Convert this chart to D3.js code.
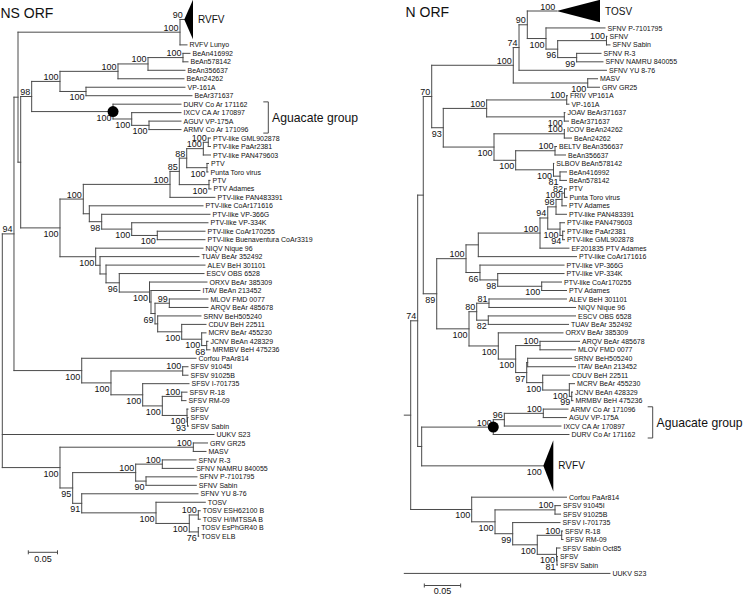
<!DOCTYPE html>
<html><head><meta charset="utf-8">
<script src="https://cdn.jsdelivr.net/npm/d3@7"></script>
<style>
html,body{margin:0;padding:0;background:#fff;}
svg{display:block;}
text{font-family:"Liberation Sans",Arial,Helvetica,sans-serif;fill:#111;}
</style></head><body>
<svg id="chart" width="745" height="595"></svg>
<script>
// ---------- NS ORF tree: [id, parent, distance from root (subst./site), bootstrap, label]
const nsNodes = [
["root",null,0,"",""],
["n94","root",0.0200,"94",""],
["nX","n94",0.0269,"",""],
["nRV","nX",0.3043,"100",""],
["RVFV","nRV",0.3116,"90","RVFV"],
["Lunyo","nRV",0.3163,"","RVFV Lunyo"],
["nY","nX",0.0315,"",""],
["n98","nY",0.0503,"98",""],
["n60","n98",0.0988,"100",""],
["n118","n60",0.1981,"100",""],
["n148","n118",0.2495,"100",""],
["n183","n148",0.3094,"100",""],
["a1","n183",0.3214,"","BeAn416992"],
["a2","n183",0.3180,"","BeAn578142"],
["a3","n148",0.3128,"","BeAn356637"],
["a4","n118",0.3111,"","BeAn24262"],
["nVP","n60",0.1433,"100",""],
["a5","nVP",0.3128,"","VP-161A"],
["a6","nVP",0.3248,"","BeAr371637"],
["nAG","n98",0.1896,"100",""],
["a7","nAG",0.3060,"","DURV Co Ar 171162"],
["nIX","nAG",0.2216,"100",""],
["a8","nIX",0.3060,"","IXCV CA Ar 170897"],
["nAR","nIX",0.2512,"100",""],
["a9","nAR",0.3060,"","AGUV VP-175A"],
["a10","nAR",0.3060,"","ARMV Co Ar 171096"],
["nPT","nY",0.0988,"100",""],
["nPL","nPT",0.1387,"100",""],
["n170","nPL",0.2872,"100",""],
["n85","n170",0.3031,"85",""],
["n88","n85",0.3158,"88",""],
["n203","n88",0.3442,"100",""],
["n208a","n203",0.3527,"100",""],
["a11","n208a",0.3565,"","PTV-like GML902878"],
["a12","n208a",0.3565,"","PTV-like PaAr2381"],
["a13","n203",0.3565,"","PTV-like PAN479603"],
["n208b","n88",0.3505,"100",""],
["a14","n208b",0.3531,"","PTV"],
["a15","n208b",0.3522,"","Punta Toro virus"],
["n210","n85",0.3539,"100",""],
["a16","n210",0.3557,"","PTV"],
["a17","n210",0.3574,"","PTV Adames"],
["a18","n170",0.3642,"","PTV-like PAN483391"],
["n89","nPL",0.1490,"",""],
["a19","n89",0.3437,"","PTV-like CoAr171616"],
["n101","n89",0.1702,"98",""],
["a20","n101",0.3557,"","PTV-like VP-366G"],
["n131","n101",0.2216,"100",""],
["a21","n131",0.3522,"","PTV-like VP-334K"],
["n157","n131",0.2654,"100",""],
["a22","n157",0.3471,"","PTV-like CoAr170255"],
["a23","n157",0.3471,"","PTV-like Buenaventura CoAr3319"],
["nNQ","nPT",0.1599,"100",""],
["a24","nNQ",0.3437,"","NIQV Nique 96"],
["nTU","nNQ",0.1673,"",""],
["a25","nTU",0.3368,"","TUAV BeAr 352492"],
["nAL","nTU",0.1776,"",""],
["a26","nAL",0.3471,"","ALEV BeH 301101"],
["n96","nAL",0.2003,"96",""],
["a27","n96",0.3454,"","ESCV OBS 6528"],
["nOR","n96",0.2521,"100",""],
["a28","nOR",0.3505,"","ORXV BeAr 385309"],
["nIT","nOR",0.2546,"",""],
["a29","nIT",0.3385,"","ITAV BeAn 213452"],
["n69","nIT",0.2615,"69",""],
["n99","n69",0.2860,"99",""],
["a30","n99",0.3522,"","MLOV FMD 0077"],
["a31","n99",0.3522,"","ARQV BeAr 485678"],
["nSR","n69",0.2661,"",""],
["a32","nSR",0.3402,"","SRNV BeH505240"],
["n181","nSR",0.3072,"100",""],
["a33","n181",0.3488,"","CDUV BeH 22511"],
["n201","n181",0.3414,"100",""],
["a34","n201",0.3488,"","MCRV BeAr 455230"],
["n206","n201",0.3500,"68",""],
["a35","n206",0.3522,"","JCNV BeAn 428329"],
["a36","n206",0.3557,"","MRMBV BeH 475236"],
["nSF","n94",0.1360,"100",""],
["a37","nSF",0.3317,"","Corfou PaAr814"],
["nS1","nSF",0.1861,"100",""],
["nS2","nS1",0.3089,"100",""],
["a38","nS2",0.3180,"","SFSV 91045I"],
["a39","nS2",0.3180,"","SFSV 91025B"],
["nS3","nS1",0.2404,"100",""],
["a40","nS3",0.3197,"","SFSV I-701735"],
["nS4","nS3",0.2740,"100",""],
["nS5","nS4",0.3072,"100",""],
["a41","nS5",0.3163,"","SFSV R-18"],
["a42","nS5",0.3146,"","SFSV RM-09"],
["nS6","nS4",0.3163,"100",""],
["a43","nS6",0.3180,"","SFSV"],
["nS7","nS6",0.3171,"93",""],
["a44","nS7",0.3180,"","SFSV"],
["a45","nS7",0.3188,"","SFSV Sabin"],
["a46","root",0.3625,"","UUKV S23"],
["nGT","root",0.0988,"100",""],
["nGM","nGT",0.3271,"100",""],
["a47","nGM",0.3514,"","GRV GR25"],
["a48","nGM",0.3488,"","MASV"],
["n95","nGT",0.1205,"95",""],
["nSN","n95",0.2284,"100",""],
["nR3","nSN",0.2740,"100",""],
["a49","nR3",0.3317,"","SFNV R-3"],
["a50","nR3",0.3277,"","SFNV NAMRU 840055"],
["n90","nSN",0.2461,"90",""],
["a51","n90",0.3334,"","SFNV P-7101795"],
["a52","n90",0.3322,"","SFNV Sabin"],
["n91","n95",0.1360,"91",""],
["a53","n91",0.3351,"","SFNV YU 8-76"],
["nTO","n91",0.2632,"100",""],
["a54","nTO",0.3476,"","TOSV"],
["n189","nTO",0.3202,"100",""],
["n198a","n189",0.3356,"100",""],
["a55","n198a",0.3390,"","TOSV ESH62100 B"],
["a56","n198a",0.3390,"","TOSV H/IMTSSA B"],
["n198b","n189",0.3356,"76",""],
["a57","n198b",0.3363,"","TOSV EsPhGR40 B"],
["a58","n198b",0.3363,"","TOSV ELB"]
];
// collapsed clades: [id, tip distance, leaf slots]
const nsCollapsed = [["RVFV",0.3265,5]];
const nsDots = ["nAG"];
const nsGroup = ["a7","a10","Aguacate group"];

// ---------- N ORF tree
const nNodes = [
["root",null,0,"",""],
["n410","root",0.0088,"",""],
["nBig","n410",0.0184,"74",""],
["n423","nBig",0.0261,"",""],
["n70","n423",0.0377,"70",""],
["n100c","n70",0.1499,"100",""],
["n74b","n100c",0.1578,"74",""],
["n90","n74b",0.1692,"90",""],
["TOSV","n90",0.2096,"100","TOSV"],
["n546","n90",0.1949,"100",""],
["b0","n546",0.2761,"","SFNV P-7101795"],
["n96","n546",0.2110,"96",""],
["nSFNV","n96",0.2781,"100",""],
["b1","nSFNV",0.2788,"","SFNV"],
["b2","nSFNV",0.2829,"","SFNV Sabin"],
["n99","n96",0.2371,"99",""],
["b3","n99",0.2706,"","SFNV R-3"],
["b4","n99",0.2733,"","SFNV NAMRU 840055"],
["b5","n74b",0.2781,"","SFNV YU 8-76"],
["nMG","n100c",0.2523,"100",""],
["b6","nMG",0.2658,"","MASV"],
["b7","nMG",0.2685,"","GRV GR25"],
["n93","n70",0.0536,"93",""],
["n100d","n93",0.1133,"100",""],
["nFR","n100d",0.2234,"100",""],
["b8","nFR",0.2245,"","FRIV VP161A"],
["b9","nFR",0.2265,"","VP-161A"],
["nJO","n100d",0.2201,"100",""],
["b10","nJO",0.2210,"","JOAV BeAr371637"],
["b11","nJO",0.2259,"","BeAr371637"],
["n100e","n93",0.1234,"100",""],
["nIC","n100e",0.2201,"100",""],
["b12","nIC",0.2204,"","ICOV BeAn24262"],
["b13","nIC",0.2300,"","BeAn24262"],
["n100f","n100e",0.1532,"100",""],
["nBE","n100f",0.2073,"100",""],
["b14","nBE",0.2094,"","BELTV BeAn356637"],
["b15","nBE",0.2217,"","BeAn356637"],
["nSL","n100f",0.2052,"100",""],
["b16","nSL",0.2056,"","SLBOV BeAn578142"],
["n81","nSL",0.2142,"81",""],
["b17","n81",0.2231,"","BeAn416992"],
["b18","n81",0.2231,"","BeAn578142"],
["n89","n423",0.0446,"89",""],
["n100g","n89",0.0849,"100",""],
["n478","n100g",0.1018,"",""],
["n540","n478",0.1867,"100",""],
["n94a","n540",0.1973,"94",""],
["n98","n94a",0.2087,"98",""],
["n100pt","n98",0.2169,"100",""],
["n82","n100pt",0.2204,"82",""],
["b19","n82",0.2231,"","PTV"],
["b20","n82",0.2238,"","Punta Toro virus"],
["b21","n100pt",0.2231,"","PTV Adames"],
["b22","n98",0.2231,"","PTV-like PAN483391"],
["n100q","n94a",0.2142,"100",""],
["b23","n100q",0.2204,"","PTV-like PAN479603"],
["n94b","n100q",0.2179,"94",""],
["b24","n94b",0.2204,"","PTV-like PaAr2381"],
["b25","n94b",0.2204,"","PTV-like GML902878"],
["b26","n540",0.2265,"","EF201835 PTV Adames"],
["b27","n478",0.2369,"","PTV-like CoAr171616"],
["n66","n100g",0.1041,"66",""],
["b28","n66",0.2197,"","PTV-like VP-366G"],
["n98b","n66",0.1285,"98",""],
["b29","n98b",0.2197,"","PTV-like VP-334K"],
["n100r","n98b",0.1890,"100",""],
["b30","n100r",0.2162,"","PTV-like CoAr170255"],
["b31","n100r",0.2231,"","PTV Adames"],
["n100h","n89",0.0890,"100",""],
["n80","n100h",0.0996,"80",""],
["n81b","n80",0.1165,"81",""],
["b32","n81b",0.2231,"","ALEV BeH 301101"],
["b33","n81b",0.2355,"","NIQV Nique 96"],
["n82b","n80",0.1155,"82",""],
["b34","n82b",0.2355,"","ESCV OBS 6528"],
["b35","n82b",0.2259,"","TUAV BeAr 352492"],
["n100j","n100h",0.1293,"100",""],
["b36","n100j",0.2183,"","ORXV BeAr 385309"],
["n100k","n100j",0.1532,"100",""],
["n100l","n100k",0.1867,"100",""],
["b37","n100l",0.2410,"","ARQV BeAr 485678"],
["b38","n100l",0.2355,"","MLOV FMD 0077"],
["n97","n100k",0.1684,"97",""],
["nSI","n97",0.1697,"",""],
["b39","nSI",0.2300,"","SRNV BeH505240"],
["b40","nSI",0.2355,"","ITAV BeAn 213452"],
["n100m","n97",0.1904,"100",""],
["b41","n100m",0.2272,"","CDUV BeH 22511"],
["n100n","n100m",0.2270,"100",""],
["b42","n100n",0.2341,"","MCRV BeAr 455230"],
["n99c","n100n",0.2303,"99",""],
["b43","n99c",0.2314,"","JCNV BeAn 428329"],
["b44","n99c",0.2320,"","MRMBV BeH 475236"],
["nMid","nBig",0.0239,"",""],
["nAG","nMid",0.1224,"100",""],
["n96b","nAG",0.1376,"96",""],
["n543","n96b",0.1912,"100",""],
["b45","n543",0.2252,"","ARMV Co Ar 171096"],
["b46","n543",0.2231,"","AGUV VP-175A"],
["b47","n96b",0.2155,"","IXCV CA Ar 170897"],
["b48","nAG",0.2265,"","DURV Co Ar 171162"],
["RVFV","nMid",0.1912,"100","RVFV"],
["nSF","n410",0.0927,"100",""],
["b49","nSF",0.2231,"","Corfou PaAr814"],
["nS1","nSF",0.1248,"100",""],
["nS2","nS1",0.2073,"100",""],
["b50","nS2",0.2149,"","SFSV 91045I"],
["b51","nS2",0.2149,"","SFSV 91025B"],
["n99s","nS1",0.1491,"99",""],
["b52","n99s",0.2142,"","SFSV I-701735"],
["nS3","n99s",0.1829,"100",""],
["nS4","nS3",0.2165,"100",""],
["b53","nS4",0.2176,"","SFSV R-18"],
["b54","nS4",0.2183,"","SFSV RM-09"],
["nS5","nS3",0.2094,"100",""],
["b55","nS5",0.2142,"","SFSV Sabin Oct85"],
["n81s","nS5",0.2100,"81",""],
["b56","n81s",0.2107,"","SFSV"],
["b57","n81s",0.2107,"","SFSV Sabin"],
["b58","root",0.2829,"","UUKV S23"]
];
const nCollapsed = [["TOSV",0.2692,3],["RVFV",0.2050,6.4]];
const nDots = ["nAG"];
const nGroup = ["b45","b48","Aguacate group"];

const titles = ["NS ORF","N ORF"];
const scaleBarValue = 0.05;

// ---------- drawing
const svg = d3.select("#chart");
const step = 8.47;
const yScale = d3.scaleLinear().domain([0,64]).range([-1.7, -1.7 + 64*step]);
const LINE = "#4a4a4a";

function drawTree(rows, collapsed, dotIds, group, xScale, o) {
  const g = svg.append("g");
  const root = d3.stratify().id(d => d[0]).parentId(d => d[1])(rows);
  const col = new Map(collapsed.map(c => [c[0], {tip: c[1], span: c[2]}]));
  let s = 0;
  root.leaves().forEach(l => {
    const sz = col.has(l.id) ? col.get(l.id).span : 1;
    l.slot = s + sz / 2; s += sz;
  });
  root.eachAfter(n => {
    if (n.children) n.slot = (n.children[0].slot + n.children[n.children.length - 1].slot) / 2;
  });
  root.each(n => { n.px = xScale(n.data[2]); n.py = yScale(n.slot); });

  const segs = [];
  root.each(n => {
    if (n.parent) segs.push([n.parent.px, n.py, n.px, n.py]);
    if (n.children && (n.parent || o.rootVertical))
      segs.push([n.px, n.children[0].py, n.px, n.children[n.children.length - 1].py]);
  });
  g.selectAll("line.br").data(segs).join("line").attr("class", "br")
    .attr("x1", d => d[0]).attr("y1", d => d[1]).attr("x2", d => d[2]).attr("y2", d => d[3])
    .attr("stroke", LINE).attr("stroke-width", 1).attr("stroke-linecap", "square");

  // collapsed triangles
  const tri = root.leaves().filter(l => col.has(l.id));
  g.selectAll("path.tri").data(tri).join("path").attr("class", "tri")
    .attr("d", l => {
      const c = col.get(l.id), h = (yScale(c.span - 0.35) - yScale(0)) / 2, xt = xScale(c.tip);
      return `M${l.px},${l.py}L${xt},${l.py - h}L${xt},${l.py + h}Z`;
    }).attr("fill", "#000");
  g.selectAll("text.tri").data(tri).join("text").attr("class", "tri")
    .attr("x", l => xScale(col.get(l.id).tip) + 5).attr("y", l => l.py + 3.6)
    .attr("font-size", 10).text(l => l.data[4]);

  // leaf labels
  const leaves = root.leaves().filter(l => !col.has(l.id));
  g.selectAll("text.leaf").data(leaves).join("text").attr("class", "leaf")
    .attr("x", l => l.px + 2.5).attr("y", l => l.py + 2.6)
    .attr("font-size", 7).text(l => l.data[4]);

  // bootstrap values
  const sup = root.descendants().filter(n => n.data[3] !== "");
  g.selectAll("text.bs").data(sup).join("text").attr("class", "bs")
    .attr("x", n => n.px - 1.5)
    .attr("y", n => (n.parent && n.parent.children[0] === n) ? n.py - 1.5 : n.py + 9)
    .attr("text-anchor", "end").attr("font-size", 9).text(n => n.data[3]);

  // dots
  const dots = root.descendants().filter(n => dotIds.includes(n.id));
  g.selectAll("circle.dot").data(dots).join("circle").attr("class", "dot")
    .attr("cx", n => n.px).attr("cy", n => n.py).attr("r", 5.5).attr("fill", "#000");

  // group bracket
  const byId = new Map(root.descendants().map(n => [n.id, n]));
  const a = byId.get(group[0]), b = byId.get(group[1]);
  const yt = Math.min(a.py, b.py) - 2.3, yb = Math.max(a.py, b.py) + 3.5, bx = o.bracketX;
  g.append("path").attr("d", `M${bx - 5},${yt}H${bx}V${yb}H${bx - 5}`)
    .attr("fill", "none").attr("stroke", LINE).attr("stroke-width", 1);
  g.append("text").attr("x", bx + 3.8).attr("y", (yt + yb) / 2 + 4.2)
    .attr("font-size", 12.2).text(group[2]);

  // scale bar
  const L = xScale(scaleBarValue) - xScale(0), sx = o.barX, sy = o.barY;
  g.append("path").attr("d", `M${sx},${sy - 2}V${sy + 2}M${sx},${sy}H${sx + L}M${sx + L},${sy - 2}V${sy + 2}`)
    .attr("fill", "none").attr("stroke", LINE).attr("stroke-width", 1);
  g.append("text").attr("x", sx + L / 2).attr("y", sy + o.barLabelDy).attr("text-anchor", "middle")
    .attr("font-size", 9).text(scaleBarValue.toFixed(2));

  // title
  g.append("text").attr("x", o.titleX).attr("y", o.titleY).attr("font-size", 14).text(o.title);
}

const xNS = d3.scaleLinear().domain([0, 0.4]).range([2.3, 2.3 + 0.4 * 584]);
const xN = d3.scaleLinear().domain([0, 0.3]).range([404.3, 404.3 + 0.3 * 727]);

drawTree(nsNodes, nsCollapsed, nsDots, nsGroup, xNS,
  {rootVertical: true, bracketX: 268.3, barX: 28.3, barY: 552.3, barLabelDy: 9.8, titleX: 0.5, titleY: 17.5, title: titles[0]});
drawTree(nNodes, nCollapsed, nDots, nGroup, xN,
  {rootVertical: false, bracketX: 652.7, barX: 424.3, barY: 585.5, barLabelDy: 8.8, titleX: 405.5, titleY: 17, title: titles[1]});
</script>
</body></html>
